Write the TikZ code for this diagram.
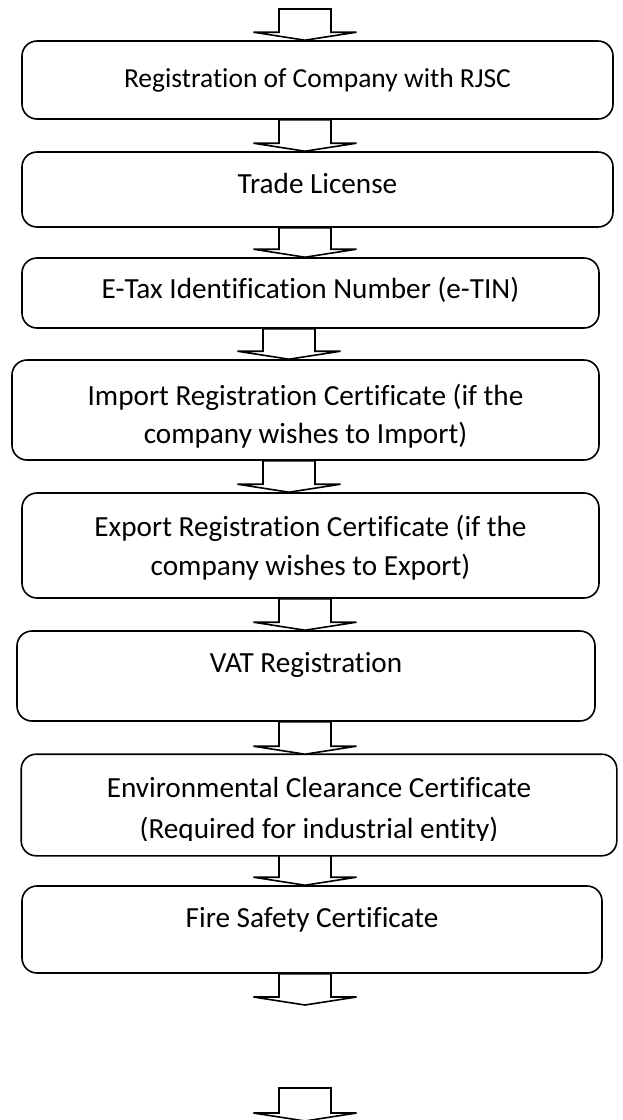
\documentclass[tikz,border=0pt]{standalone}
\usepackage{fontspec}
\setmainfont{Carlito}[Ligatures={NoCommon}]
\usetikzlibrary{calc}
\tikzset{
  box/.style={draw, line width=1.6pt, rounded corners=15pt, inner sep=0pt,
    font=\fontsize{29.2}{40}\selectfont},
  barrow/.style={draw, line width=1.6pt, fill=white, line join=miter},
}
\newcommand\blockarr[2]{%
  \draw[barrow] let \p1=(#1), \p2=(#2) in
    (\x1-26pt,\y1) -- (\x1-26pt,\y2+8pt) -- (\x1-51.5pt,\y2+8pt) -- (\x1,\y2)
    -- (\x1+51.5pt,\y2+8pt) -- (\x1+26pt,\y2+8pt) -- (\x1+26pt,\y1) -- cycle;}
\newcommand\twolines[3]{\begin{tabular}[t]{@{}c@{}}#1\\[#3]#2\end{tabular}}
\begin{document}
\begin{tikzpicture}[x=1pt,y=1pt]
\useasboundingbox (0,0) rectangle (622,-1120);
\clip (0,0) rectangle (622,-1120);
\fill[white] (0,0) rectangle (622,-1120);

\coordinate (ax) at (305,0);
\coordinate (ay) at (289,0);

\node[box, font=\fontsize{27.5}{40}\selectfont, minimum width=591pt, minimum height=78pt] (b1) at (317.5,-80)
  {\raisebox{-7.5pt}[0pt][0pt]{Registration of Company with RJSC}};
\node[box, minimum width=591pt, minimum height=75pt] (b2) at (317.5,-189.5)
  {\raisebox{-3.5pt}[0pt][0pt]{Trade License}};
\node[box, minimum width=577pt, minimum height=70pt] (b3) at (310.5,-293)
  {\raisebox{-5pt}[0pt][0pt]{E-Tax Identification Number (e-TIN)}};
\node[box, minimum width=587pt, minimum height=100pt] (b4) at (305.5,-410)
  {\raisebox{4.5pt}[0pt][0pt]{\twolines{Import Registration Certificate (if the}{company wishes to Import)}{-2.5pt}}};
\node[box, minimum width=577pt, minimum height=105pt] (b5) at (310.5,-545.5)
  {\raisebox{9.5pt}[0pt][0pt]{\twolines{Export Registration Certificate (if the}{company wishes to Export)}{-0.5pt}}};
\node[box, minimum width=578pt, minimum height=90pt] (b6) at (306,-676)
  {\raisebox{3.5pt}[0pt][0pt]{VAT Registration}};
\begin{scope}
  \clip (0,0) rectangle (622,-840);
  \node[box, draw=none, minimum width=594pt, minimum height=100pt] (b7) at (319,-805)
    {\raisebox{8pt}[0pt][0pt]{\twolines{Environmental Clearance Certificate}{(Required for industrial entity)}{1pt}}};
\end{scope}
\draw[line width=1.6pt, rounded corners=15pt] (b7.south west) rectangle (b7.north east);
\node[box, minimum width=580pt, minimum height=87pt] (b8) at (312,-929.5)
  {\raisebox{2.5pt}[0pt][0pt]{Fire Safety Certificate}};

\coordinate (s0) at (305,-9);
\coordinate (e8) at (305,-1005);
\coordinate (s9) at (305,-1088);
\coordinate (e9) at (305,-1121);

\blockarr{s0}{ax |- b1.north}
\blockarr{ax |- b1.south}{ax |- b2.north}
\blockarr{ax |- b2.south}{ax |- b3.north}
\blockarr{ay |- b3.south}{ay |- b4.north}
\blockarr{ay |- b4.south}{ay |- b5.north}
\blockarr{ax |- b5.south}{ax |- b6.north}
\blockarr{ax |- b6.south}{ax |- b7.north}
\blockarr{ax |- b7.south}{ax |- b8.north}
\blockarr{ax |- b8.south}{e8}
\blockarr{s9}{e9}
\end{tikzpicture}
\end{document}
